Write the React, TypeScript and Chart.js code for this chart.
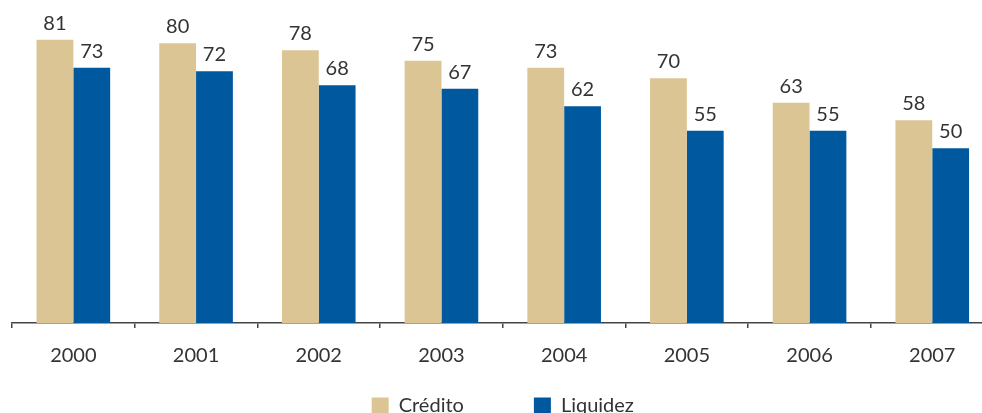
import React, { useEffect, useRef } from "react";
import { Chart, registerables } from "chart.js";

Chart.register(...registerables);

const categories = ["2000", "2001", "2002", "2003", "2004", "2005", "2006", "2007"];
const credito = [81, 80, 78, 75, 73, 70, 63, 58];
const liquidez = [73, 72, 68, 67, 62, 55, 55, 50];
const seriesNames = ["Crédito", "Liquidez"];

const CANVAS_W = 1000;
const CANVAS_H = 484;
const LEGEND_SHIFT = 58;
const FONT = "Lato, 'Open Sans', sans-serif";
const TEXT = "#333333";

const valueLabels = {
  id: "valueLabels",
  afterDatasetsDraw(chart: any) {
    const ctx = chart.ctx;
    ctx.save();
    ctx.font = `20px ${FONT}`;
    ctx.fillStyle = TEXT;
    ctx.textAlign = "center";
    ctx.textBaseline = "alphabetic";
    chart.data.datasets.forEach((ds: any, i: number) => {
      const meta = chart.getDatasetMeta(i);
      meta.data.forEach((bar: any, j: number) => {
        ctx.fillText(String(ds.data[j]), bar.x, bar.y - 10);
      });
    });
    ctx.restore();
  },
};

const legendShift = {
  id: "legendShift",
  afterLayout(chart: any) {
    const lg = chart.legend;
    if (lg) {
      lg.top -= LEGEND_SHIFT;
      lg.bottom -= LEGEND_SHIFT;
    }
  },
};

export default function App() {
  const ref = useRef<HTMLCanvasElement | null>(null);
  useEffect(() => {
    if (!ref.current) return;
    const chart = new Chart(ref.current, {
      type: "bar",
      data: {
        labels: categories,
        datasets: [
          { label: seriesNames[0], data: credito, backgroundColor: "#DBC594" },
          { label: seriesNames[1], data: liquidez, backgroundColor: "#00589E" },
        ],
      },
      options: {
        animation: false,
        responsive: false,
        devicePixelRatio: 1,
        layout: { padding: { left: 12, right: 6.4, top: 10, bottom: 0 } },
        datasets: { bar: { categoryPercentage: 0.6, barPercentage: 1 } },
        scales: {
          x: {
            offset: true,
            grid: {
              offset: true,
              drawOnChartArea: false,
              drawTicks: true,
              tickLength: 5,
              color: "#444444",
              lineWidth: 1.5,
            },
            border: { display: true, color: "#444444", width: 1.5 },
            ticks: {
              color: TEXT,
              font: { family: FONT, size: 20 },
              padding: 16,
            },
          },
          y: {
            display: false,
            min: 0,
            max: 89.5,
          },
        },
        plugins: {
          tooltip: { enabled: false },
          legend: {
            position: "bottom",
            labels: {
              color: TEXT,
              font: { family: FONT, size: 20 },
              boxWidth: 17,
              boxHeight: 17,
              padding: 70,
            },
          },
        },
      },
      plugins: [valueLabels, legendShift],
    });
    return () => chart.destroy();
  }, []);
  return (
    <div style={{ position: "fixed", left: 0, top: 0, width: 982, height: 413, overflow: "hidden", background: "#fff" }}>
      <canvas ref={ref} width={CANVAS_W} height={CANVAS_H} style={{ display: "block" }} />
    </div>
  );
}
